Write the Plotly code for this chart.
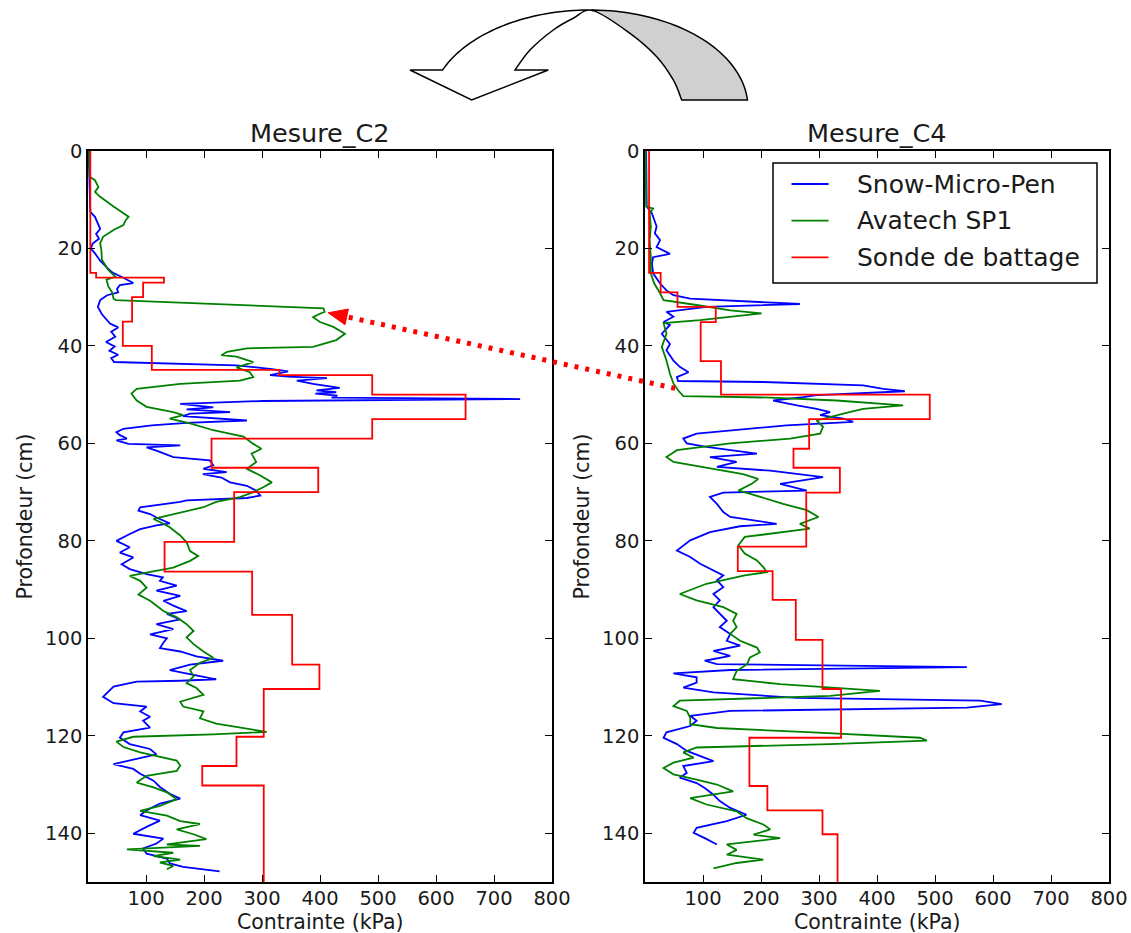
import math
import plotly.graph_objects as go

W, H = 1131, 933

# ---------------- data ----------------
# Mesure_C2 : Snow-Micro-Pen
c2_smp_depth = [0, 4, 8, 11, 12.5, 13.5, 14.5, 16, 17, 18, 19, 20, 21, 22.5, 24, 25, 26, 27.1, 27.5, 28.3,
                29, 29.6, 30.6, 32, 33.5, 35.4, 36.2, 37.1, 38.1, 39.2, 40.1, 41, 41.8, 42.5, 43.3, 44.0, 44.7,
                45.2, 46.0, 46.3, 46.6, 47.1, 47.8, 48.6, 49.1, 49.5, 49.8, 50.2, 50.6, 50.9, 51.3, 51.9, 52.6,
                53.0, 53.6, 53.9, 54.4, 55.3, 55.8, 56.3, 57.0, 57.7, 58.3, 59.0, 59.4, 60.1, 60.4, 60.8, 61.5,
                62.0, 62.8, 63.5, 64.5, 65.2, 65.9, 66.3, 67.0, 68.0, 68.7, 69.7, 70.7, 71.2, 71.7, 72.0, 73.1,
                73.8, 74.5, 75.2, 75.8, 76.4, 76.8, 77.6, 78.6, 80.0, 81.3, 82.4, 83.4, 84.8, 85.8, 86.8, 87.5,
                88.2, 89.2, 90.2, 91.3, 92.3, 93.3, 94.4, 95.0, 96.1, 97.1, 98.1, 99.2, 100.0, 100.9, 102.0,
                102.7, 103.7, 104.6, 105.4, 106.5, 107.5, 108.4, 108.7, 108.9, 109.9, 112.0, 113.3, 114.0,
                115.0, 116.1, 116.9, 118.3, 119.3, 120.4, 121.7, 122.7, 123.8, 124.8, 125.8, 126.8, 127.8,
                129.2, 130.5, 131.9, 132.9, 133.9, 135.3, 136.3, 137.4, 138.7, 140.1, 141.1, 142.1, 143.1,
                144.2, 145.2, 146.2, 146.9, 147.8]
c2_smp_kpa = [1, 2, 2, 3, 4, 12, 16, 21, 14, 19, 8, 5, 12, 21, 33, 43, 61, 78, 55, 50,
              52, 33, 21, 17, 24, 38, 52, 40, 47, 31, 46, 37, 52, 40, 45, 256, 314,
              345, 314, 345, 412, 360, 388, 434, 394, 428, 392, 430, 420, 745, 300, 159, 216,
              170, 245, 176, 164, 274, 170, 110, 61, 49, 55, 67, 49, 70, 159, 101, 118,
              130, 147, 210, 216, 199, 239, 198, 230, 245, 274, 290, 297, 274, 170, 159, 90,
              87, 107, 118, 129, 141, 118, 90, 72, 49, 72, 55, 78, 58, 72, 101, 129,
              124, 153, 118, 159, 130, 147, 170, 136, 159, 118, 147, 107, 136, 130, 124,
              159, 187, 233, 176, 141, 181, 221, 159, 84, 44, 26, 44, 101,
              90, 107, 95, 107, 61, 55, 72, 107, 118, 78, 44, 78, 90,
              113, 124, 141, 159, 124, 101, 90, 124, 101, 78, 130, 118, 95,
              101, 136, 141, 164, 227]

# Mesure_C2 : Avatech SP1
c2_ava_depth = [0, 5.3, 6, 7.4, 8.4, 9.4, 11.4, 13.5, 14.2, 15.2, 16.2, 17.6, 18.9, 20.3, 22.3, 24.4, 25.8,
                26.4, 27.8, 29.1, 30.3, 30.6, 32.3, 33.0, 33.5, 34.1, 35.1, 36.1, 37.5, 38.8, 40.2, 40.5,
                41.2, 41.9, 42.2, 43.3, 44.4, 45.4, 46.4, 47.1, 47.8, 48.8, 49.8, 51.2, 52.5, 53.6, 54.2,
                54.9, 55.9, 57.3, 58.6, 60.1, 61.1, 62.1, 63.8, 65.2, 66.6, 68.0, 69.0, 70.0, 71.0, 72.0,
                73.1, 74.5, 75.5, 76.5, 77.2, 78.9, 80.3, 82.1, 83.1, 84.1, 85.5, 86.5, 87.2, 88.2, 89.6,
                91.0, 92.3, 94.4, 95.7, 97.1, 98.5, 99.8, 101.2, 102.7, 104.0, 105.0, 106.5, 107.8, 109.2,
                110.2, 111.6, 113.0, 114.0, 115.0, 116.4, 117.5, 118.5, 119.2, 119.7, 120.2, 121.2, 122.3,
                123.4, 124.4, 125.1, 126.1, 127.2, 128.2, 129.6, 130.6, 131.6, 133.0, 134.4, 135.4, 136.4,
                137.5, 138.1, 139.2, 140.2, 141.2, 142.3, 142.6, 143.3, 144.0, 144.7, 145.4, 146.0, 146.7,
                147.4]
c2_ava_kpa = [2, 3, 12, 18, 12, 21, 44, 70, 65, 61, 44, 26, 21, 23, 24, 35, 47,
              32, 35, 42, 44, 48, 406, 408, 398, 388, 400, 423, 443, 428, 388, 274,
              240, 230, 256, 285, 256, 279, 285, 262, 159, 84, 75, 84, 101, 147, 164,
              141, 176, 216, 268, 285, 299, 282, 290, 274, 297, 317, 302, 285, 262, 221,
              199, 147, 113, 130, 141, 159, 170, 176, 190, 176, 147, 101, 72, 90, 101,
              87, 107, 130, 153, 170, 182, 170, 182, 199, 216, 193, 176, 182, 170,
              187, 199, 159, 164, 199, 193, 221, 268, 308, 216, 78, 49, 61,
              90, 124, 153, 159, 153, 101, 84, 113, 136, 153, 124, 90, 136,
              159, 193, 153, 182, 204, 136, 193, 67, 147, 113, 159, 124, 147,
              136]

# Mesure_C2 : Sonde de battage (step profile, value holds down to next depth)
c2_sonde_depth = [0, 25, 26, 27, 30, 35, 40, 44.9, 46, 50, 55, 59, 65, 70, 80.2, 86.3, 95.2, 105.4,
                  110.4, 120.2, 126.2, 130.2, 150]
c2_sonde_kpa = [4, 14, 131, 95, 76, 60, 110, 330, 490, 651, 490, 213, 397, 252, 132, 283, 352, 399,
                303, 256, 197, 303, 303]

# Mesure_C4 : Snow-Micro-Pen
c4_smp_depth = [0, 11.4, 12.8, 15.5, 16.9, 18.3, 19.7, 21.1, 21.8, 23.1, 25.1, 27.2, 28.6, 29.6, 30.3,
                31.4, 32.0, 33.0, 34.0, 35.1, 35.7, 37.5, 39.6, 40.9, 43.0, 44.3, 45.4, 46.4, 47.2, 47.4,
                48.1, 48.8, 49.3, 50.1, 50.5, 51.2, 52.2, 52.9, 53.6, 54.2, 54.9, 55.6, 56.3, 58.0, 59.0,
                60.0, 60.7, 61.4, 62.1, 62.8, 63.8, 64.8, 65.6, 66.9, 68.3, 69.7, 70.1, 71.0, 72.4, 74.1,
                75.1, 76.5, 77.0, 78.2, 79.9, 82.0, 83.3, 84.7, 86.1, 87.1, 88.1, 89.5, 90.9, 92.2, 93.6,
                95.0, 96.4, 97.7, 99.1, 100.5, 101.5, 102.6, 103.6, 104.6, 105.3, 105.9, 106.5, 107.2,
                108.0, 109.1, 110.1, 111.1, 112.2, 112.8, 113.5, 114.2, 114.9, 115.9, 116.9, 118.0,
                119.3, 120.4, 121.7, 123.1, 124.2, 125.2, 126.2, 127.6, 128.6, 129.7, 130.7, 132.1,
                133.4, 134.8, 136.2, 137.5, 138.9, 139.9, 141.0, 142.3]
c4_smp_kpa = [2, 3, 12, 20, 17, 26, 20, 43, 14, 12, 14, 26, 37, 49, 78,
              267, 106, 37, 49, 32, 43, 29, 43, 37, 49, 60, 75, 55, 57, 204,
              376, 411, 448, 296, 273, 221, 262, 296, 319, 302, 342, 359, 244, 89, 66,
              72, 106, 147, 193, 112, 158, 124, 216, 307, 233, 279, 135, 112, 124, 135,
              147, 227, 164, 112, 78, 55, 78, 95, 118, 135, 124, 135, 118, 129, 118,
              129, 141, 129, 147, 141, 164, 118, 147, 103, 124, 555, 147, 49,
              89, 89, 66, 118, 262, 578, 615, 555, 147, 78, 89, 78,
              37, 32, 55, 72, 95, 118, 66, 72, 60, 89, 103, 118,
              129, 147, 175, 141, 89, 84, 103, 124]

# Mesure_C4 : Avatech SP1
c4_ava_depth = [0, 11.4, 11.8, 12.8, 15.5, 18.3, 21.8, 25.1, 26.5, 27.2, 29.2, 30.6, 31.6, 32.7, 33.3,
                34.0, 34.7, 35.3, 37.5, 40.2, 43.0, 45.7, 47.7, 49.1, 50.3, 50.6, 51.2, 52.2, 52.9, 53.9,
                54.6, 55.3, 56.6, 58.0, 59.0, 60.0, 61.4, 62.8, 63.8, 64.9, 66.3, 67.3, 68.3, 69.7, 70.3,
                72.4, 73.7, 75.1, 76.5, 77.5, 78.2, 79.2, 80.9, 82.6, 84.0, 85.4, 86.4, 87.1, 88.8, 90.9,
                92.2, 93.6, 95.0, 96.4, 97.7, 99.1, 100.5, 101.9, 102.9, 103.9, 105.3, 106.7, 108.4,
                109.4, 110.8, 111.8, 112.8, 113.9, 114.9, 116.3, 117.6, 118.4, 119.3, 120.4, 121.0,
                121.7, 122.4, 123.4, 124.5, 125.5, 126.6, 127.9, 129.0, 130.0, 131.4, 132.8, 134.1,
                135.5, 136.9, 138.2, 139.2, 140.3, 141.0, 142.3, 143.4, 144.4, 145.4, 146.1, 147.2]
c4_ava_kpa = [1, 2, 14, 8, 10, 8, 10, 10, 14, 16, 26, 32, 89, 147, 201,
              147, 95, 32, 37, 29, 37, 43, 49, 57, 66, 216, 330, 445, 376, 342,
              319, 296, 307, 302, 250, 147, 55, 37, 49, 100, 169, 195, 184, 161, 180,
              238, 279, 299, 267, 284, 241, 172, 161, 172, 193, 204, 210, 172, 106, 60,
              89, 135, 158, 152, 158, 147, 164, 193, 198, 181, 176, 158, 152,
              233, 405, 319, 60, 49, 72, 78, 78, 124, 290, 474, 486,
              319, 89, 66, 84, 49, 32, 49, 89, 124, 152, 78, 106,
              158, 175, 204, 216, 187, 233, 141, 158, 141, 204, 158, 118]

# Mesure_C4 : Sonde de battage
c4_sonde_depth = [0, 25, 29, 32, 35.1, 43.1, 50, 55, 61.1, 65, 70.1, 81.2, 86.2, 92.1, 100.3, 110.4,
                  120.4, 130.3, 135.3, 140.2, 150]
c4_sonde_kpa = [7, 27, 56, 122, 96, 131, 491, 283, 256, 336, 278, 160, 220, 260, 306, 338,
                180, 211, 306, 332, 332]

series_names = ["Snow-Micro-Pen", "Avatech SP1", "Sonde de battage"]
series_colors = ["#0000ff", "#008000", "#ff0000"]
panel_titles = ["Mesure_C2", "Mesure_C4"]
x_tick_values = [100, 200, 300, 400, 500, 600, 700, 800]
y_tick_values = [0, 20, 40, 60, 80, 100, 120, 140]
x_range = [0, 800]
y_range = [150, 0]

# ---------------- layout geometry (pixels on the 1131x933 canvas) ----------------
PANEL_X = [(88, 552), (645, 1109)]
PANEL_Y = (151, 882)
FONT = "DejaVu Sans"
LINE_W = 1.8


def px_to_paper(x, y):
    return x / W, 1 - y / H


def data_to_px(panel, kpa, depth):
    x0, x1 = PANEL_X[panel]
    y0, y1 = PANEL_Y
    px = x0 + (kpa - x_range[0]) / (x_range[1] - x_range[0]) * (x1 - x0)
    py = y0 + (depth - y_range[1]) / (y_range[0] - y_range[1]) * (y1 - y0)
    return px, py


fig = go.Figure()

panels = [
    (c2_smp_depth, c2_smp_kpa, c2_ava_depth, c2_ava_kpa, c2_sonde_depth, c2_sonde_kpa),
    (c4_smp_depth, c4_smp_kpa, c4_ava_depth, c4_ava_kpa, c4_sonde_depth, c4_sonde_kpa),
]
for i, (sd, sv, ad, av, bd, bv) in enumerate(panels):
    xa = "x" if i == 0 else "x2"
    ya = "y" if i == 0 else "y2"
    fig.add_trace(go.Scatter(x=sv, y=sd, mode="lines", name=series_names[0], showlegend=False,
                             line=dict(color=series_colors[0], width=LINE_W), xaxis=xa, yaxis=ya))
    fig.add_trace(go.Scatter(x=av, y=ad, mode="lines", name=series_names[1], showlegend=False,
                             line=dict(color=series_colors[1], width=LINE_W), xaxis=xa, yaxis=ya))
    fig.add_trace(go.Scatter(x=bv, y=bd, mode="lines", name=series_names[2], showlegend=False,
                             line=dict(color=series_colors[2], width=LINE_W, shape="vh"),
                             xaxis=xa, yaxis=ya))

axis_style = dict(showline=True, linecolor="black", linewidth=1.5, mirror="ticks", ticks="inside",
                  ticklen=7, tickwidth=1, tickcolor="black", showgrid=False, zeroline=False,
                  automargin=False, tickfont=dict(family=FONT, size=19.5, color="#1a1a1a"))

ydom = [1 - PANEL_Y[1] / H, 1 - PANEL_Y[0] / H]
fig.update_layout(
    width=W, height=H, autosize=False,
    margin=dict(l=0, r=0, t=0, b=0, pad=0, autoexpand=False),
    paper_bgcolor="white", plot_bgcolor="white",
    font=dict(family=FONT, color="#1a1a1a"),
    showlegend=False,
    xaxis=dict(domain=[PANEL_X[0][0] / W, PANEL_X[0][1] / W], range=x_range, tickvals=x_tick_values,
               anchor="y", ticklabelstandoff=-2, **axis_style),
    yaxis=dict(domain=ydom, range=y_range, tickvals=y_tick_values, anchor="x", **axis_style),
    xaxis2=dict(domain=[PANEL_X[1][0] / W, PANEL_X[1][1] / W], range=x_range, tickvals=x_tick_values,
                anchor="y2", ticklabelstandoff=-2, **axis_style),
    yaxis2=dict(domain=ydom, range=y_range, tickvals=y_tick_values, anchor="x2", **axis_style),
)

annotations = []
shapes = []

# ---------------- titles ----------------
for i, t in enumerate(panel_titles):
    cx = (PANEL_X[i][0] + PANEL_X[i][1]) / 2
    X, Y = px_to_paper(cx, 133)
    annotations.append(dict(text=t, x=X, y=Y, xref="paper", yref="paper", showarrow=False,
                            xanchor="center", yanchor="middle", font=dict(family=FONT, size=25.5)))
    X, Y = px_to_paper(cx, 922)
    annotations.append(dict(text="Contrainte (kPa)", x=X, y=Y, xref="paper", yref="paper",
                            showarrow=False, xanchor="center", yanchor="middle",
                            font=dict(family=FONT, size=20.5)))
    X, Y = px_to_paper(PANEL_X[i][0] - 64, (PANEL_Y[0] + PANEL_Y[1]) / 2)
    annotations.append(dict(text="Profondeur (cm)", x=X, y=Y, xref="paper", yref="paper",
                            showarrow=False, textangle=-90, xanchor="center", yanchor="middle",
                            font=dict(family=FONT, size=20.5)))

# ---------------- legend box in the Mesure_C4 panel ----------------
LEG_BOX = (773, 163, 1097, 283)
LEG_ROWS = [184, 220.7, 257.3]
bx0, by0 = px_to_paper(LEG_BOX[0], LEG_BOX[3])
bx1, by1 = px_to_paper(LEG_BOX[2], LEG_BOX[1])
shapes.append(dict(type="rect", x0=bx0, y0=by0, x1=bx1, y1=by1, xref="paper", yref="paper",
                   fillcolor="white", line=dict(color="black", width=1.5), layer="above"))
for name, color, ry in zip(series_names, series_colors, LEG_ROWS):
    lx0, ly = px_to_paper(791.5, ry)
    lx1, _ = px_to_paper(828.5, ry)
    shapes.append(dict(type="line", x0=lx0, y0=ly, x1=lx1, y1=ly, xref="paper", yref="paper",
                       line=dict(color=color, width=LINE_W), layer="above"))
    tx, _ = px_to_paper(855, ry)
    annotations.append(dict(text=name, x=tx, y=ly, xref="paper", yref="paper", showarrow=False,
                            xanchor="left", yanchor="middle", font=dict(family=FONT, size=25)))

# ---------------- curved arrow above the panels ----------------

def fmt(p):
    X, Y = px_to_paper(*p)
    return f"{X:.5f},{Y:.5f}"


def catmull(points):
    segs = []
    n = len(points)
    for i in range(n - 1):
        p0 = points[i - 1] if i > 0 else points[i]
        p1, p2 = points[i], points[i + 1]
        p3 = points[i + 2] if i + 2 < n else points[i + 1]
        c1 = (p1[0] + (p2[0] - p0[0]) / 6, p1[1] + (p2[1] - p0[1]) / 6)
        c2 = (p2[0] - (p3[0] - p1[0]) / 6, p2[1] - (p3[1] - p1[1]) / 6)
        segs.append((p1, c1, c2, p2))
    return segs


def reversed_curve(segs):
    return " ".join(f"C {fmt(c2)} {fmt(c1)} {fmt(p1)}" for (p1, c1, c2, p2) in reversed(segs))


# outer rim: half-ellipse, slightly wider on its left side
OC_X, OC_Y, O_RY, O_RXL, O_RXR = 590, 108, 98, 160, 158
TOP_X = 593


def outer_pt(theta_deg):
    t = math.radians(theta_deg)
    rx = O_RXL if math.cos(t) < 0 else O_RXR
    return (OC_X + rx * math.cos(t), OC_Y - O_RY * math.sin(t))


theta_left = 180 - math.degrees(math.asin((OC_Y - 70) / O_RY))
theta_top = math.degrees(math.acos((TOP_X - OC_X) / O_RXR))
theta_right = math.degrees(math.asin((OC_Y - 100) / O_RY))
n_steps = 40
outer_front = [outer_pt(theta_left + (theta_top - theta_left) * k / n_steps) for k in range(n_steps + 1)]
outer_back = [outer_pt(theta_top + (theta_right - theta_top) * k / n_steps) for k in range(n_steps + 1)]

inner = [(515, 70), (530, 50), (553.3, 30), (573.3, 18.3), (TOP_X, outer_front[-1][1] + 0.6),
         (630, 33.3), (656.7, 56.7), (673.3, 80), (681.7, 100)]
inner_segs = catmull(inner)

back_path = ("M " + " L ".join(fmt(p) for p in outer_back)
             + f" L {fmt(inner[-1])} " + reversed_curve(inner_segs[4:]) + " Z")
front_path = ("M " + " L ".join(fmt(p) for p in outer_front)
              + f" L {fmt(inner[4])} " + reversed_curve(inner_segs[:4])
              + f" L {fmt((548.3, 70))} L {fmt((471.7, 100))} L {fmt((410, 70))} Z")

shapes.append(dict(type="path", path=back_path, xref="paper", yref="paper", fillcolor="#d0d0d0",
                   line=dict(color="black", width=1.5), layer="above"))
shapes.append(dict(type="path", path=front_path, xref="paper", yref="paper", fillcolor="white",
                   line=dict(color="black", width=1.5), layer="above"))

# ---------------- red dotted arrow between the two panels ----------------
tip = data_to_px(0, 414, 33.2)     # Avatech peak on Mesure_C2
start = data_to_px(1, 52, 48.7)    # layer onset on Mesure_C4
dx, dy = tip[0] - start[0], tip[1] - start[1]
L = (dx ** 2 + dy ** 2) ** 0.5
ux, uy = dx / L, dy / L
head_len, head_half = 19, 8
base = (tip[0] - ux * head_len, tip[1] - uy * head_len)
b1 = (base[0] - uy * head_half, base[1] + ux * head_half)
b2 = (base[0] + uy * head_half, base[1] - ux * head_half)
sx, sy = px_to_paper(*start)
bx, by = px_to_paper(*base)
shapes.append(dict(type="line", x0=sx, y0=sy, x1=bx, y1=by, xref="paper", yref="paper",
                   line=dict(color="#ff0000", width=5, dash="4px,7px"), layer="above"))
shapes.append(dict(type="path", path=f"M {fmt(tip)} L {fmt(b1)} L {fmt(b2)} Z", xref="paper",
                   yref="paper", fillcolor="#ff0000", line=dict(color="#ff0000", width=1), layer="above"))

fig.update_layout(annotations=annotations, shapes=shapes)

# page body without default margin so the figure sits at the top-left corner
page_style = "document.body.style.margin='0';document.documentElement.style.overflow='hidden';"
fig.write_html("out.html", post_script=page_style)
